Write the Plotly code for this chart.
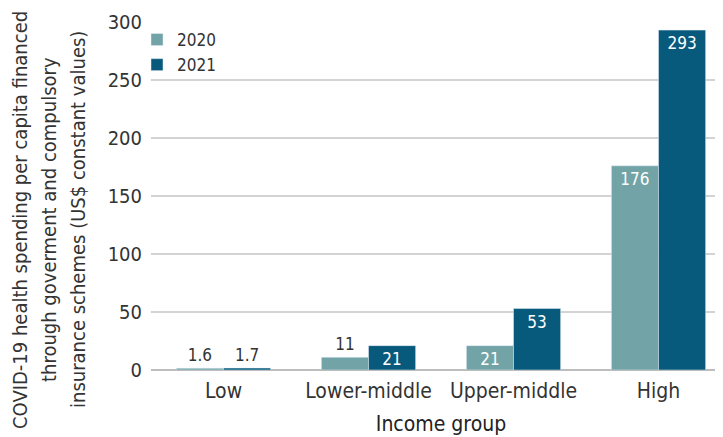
import plotly.graph_objects as go

categories = ["Low", "Lower-middle", "Upper-middle", "High"]
values_2020 = [1.6, 11, 21, 176]
values_2021 = [1.7, 21, 53, 293]
labels_2020 = ["1.6", "11", "21", "176"]
labels_2021 = ["1.7", "21", "53", "293"]
pos_2020 = ["outside", "outside", "inside", "inside"]
pos_2021 = ["outside", "inside", "inside", "inside"]
ytitle_lines = ["COVID-19 health spending per capita financed",
                "through goverment and compulsory",
                "insurance schemes (US$ constant values)"]

FONT = "DejaVu Sans Condensed, Roboto, sans-serif"
C2020 = "#72a4a7"
C2021 = "#085a7c"

# page is rendered with an 8px body margin; compensate in the figure margins
L, T, B = 143, 14, 75
PLOT_W = 723 - L
PLOT_H = 437 - T - B

def bar(name, vals, labels, pos, color):
    return go.Bar(name=name, x=categories, y=vals, marker_color=color,
                  text=labels, textposition=pos, insidetextanchor="end",
                  textangle=0, constraintext="none",
                  insidetextfont=dict(color="white", size=17, family=FONT),
                  outsidetextfont=dict(color="#333333", size=17, family=FONT),
                  cliponaxis=False)

fig = go.Figure()
fig.add_trace(bar("2020", values_2020, labels_2020, pos_2020, C2020))
fig.add_trace(bar("2021", values_2021, labels_2021, pos_2021, C2021))

title_x_px = [12, 41, 70]
annotations = []
for line, xp in zip(ytitle_lines, title_x_px):
    annotations.append(dict(
        text=line, xref="paper", yref="paper",
        x=(xp - L) / PLOT_W, y=(T + PLOT_H - 212) / PLOT_H,
        xanchor="center", yanchor="middle", textangle=-90, showarrow=False,
        borderpad=0,
        font=dict(size=20, color="#333333", family=FONT)))

fig.update_layout(
    width=723, height=437,
    margin=dict(l=L, r=0, t=T, b=B),
    paper_bgcolor="white", plot_bgcolor="white",
    barmode="group", bargap=0.35, bargroupgap=0,
    font=dict(family=FONT, color="#333333", size=19),
    legend=dict(x=-14 / PLOT_W, y=1.0, xanchor="left", yanchor="top",
                font=dict(size=17, color="#333333", family=FONT),
                bgcolor="rgba(0,0,0,0)", itemwidth=30, tracegroupgap=0),
    xaxis=dict(range=[-0.5, 3.5], showgrid=False, ticks="", tickfont=dict(size=21),
               ticklabelstandoff=6,
               title=dict(text="Income group", font=dict(size=21, color="#222222"), standoff=14),
               showline=False, automargin=False),
    yaxis=dict(range=[0, 300], tickvals=[0, 50, 100, 150, 200, 250, 300],
               showgrid=True, gridcolor="#d3d3d3", gridwidth=1.5,
               zeroline=True, zerolinecolor="#bdbdbd", zerolinewidth=1.5,
               tickfont=dict(size=20), ticks="", ticklabelstandoff=8, automargin=False),
    annotations=annotations,
)

fig.write_html("out.html")
